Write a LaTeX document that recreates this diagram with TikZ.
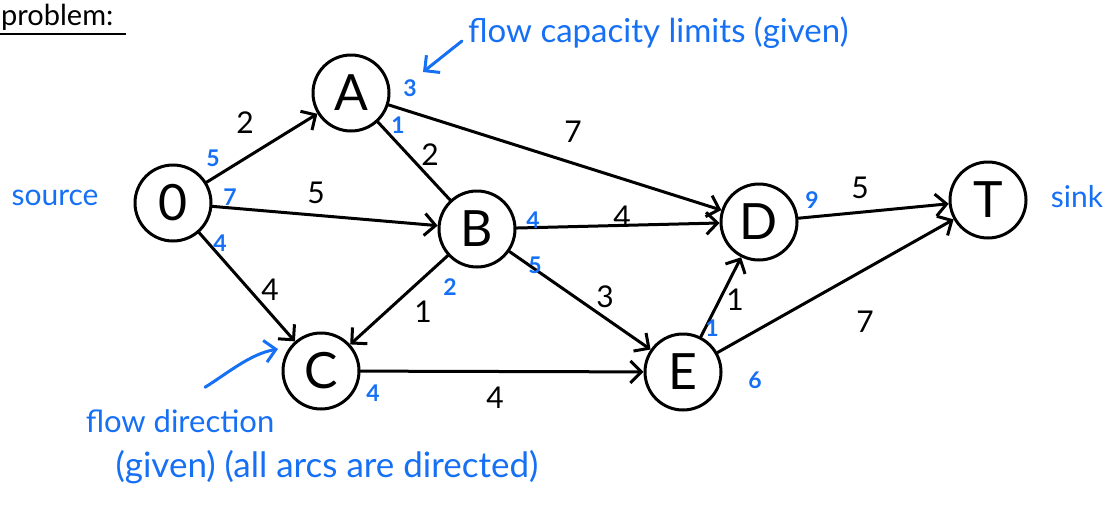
\documentclass[tikz,border=0pt]{standalone}
\usepackage{fontspec}
\setmainfont{Lato}
\usetikzlibrary{arrows.meta}
\definecolor{ink}{RGB}{0,0,0}
\definecolor{pen}{RGB}{22,112,245}
\begin{document}
\begin{tikzpicture}[x=1pt,y=-1pt,
  vert/.style={circle, draw=ink, line width=3pt, minimum size=76pt, inner sep=0pt,
    font=\fontsize{50}{50}\selectfont},
  arcline/.style={draw=ink, line width=3pt, line cap=round,
    -{Straight Barb[length=11pt,width=22pt,line width=3pt]}},
  plainline/.style={draw=ink, line width=3pt, line cap=round},
  capnum/.style={text=ink, font=\fontsize{30}{30}\selectfont},
  flownum/.style={text=pen, font=\fontsize{23}{23}\selectfont\bfseries},
  notetext/.style={text=pen, inner sep=0pt},
  pointer/.style={draw=pen, line width=3pt, line cap=round,
    -{Straight Barb[length=11pt,width=22pt,line width=3pt]}},
]
\useasboundingbox (0,0) rectangle (1118,504);

% heading
\node[text=ink, font=\fontsize{29}{29}\selectfont, anchor=base west, inner sep=0pt] (head) at (1,25) {problem:};
\coordinate (ulA) at (0,34);
\coordinate (ulB) at (126,34);
\draw[ink, line width=2.8pt] (ulA) -- (ulB);

% vertices
\node[vert] (O) at (173,203) {0};
\node[vert] (A) at (351,93) {A};
\node[vert] (B) at (477,229) {B};
\node[vert] (C) at (321,371) {C};
\node[vert] (D) at (759,222) {D};
\node[vert] (E) at (683,372) {E};
\node[vert] (T) at (988,200) {T};

% arcs
\draw[arcline] (O) -- (A);
\draw[arcline] (O) -- (B);
\draw[arcline] (O) -- (C);
\draw[plainline] (A) -- (B);
\draw[arcline] (A) -- (D);
\draw[arcline] (B) -- (D);
\draw[arcline] (B) -- (C);
\draw[arcline] (B) -- (E);
\draw[arcline] (C) -- (E);
\draw[arcline] (E) -- (D);
\draw[arcline] (D) -- (T);
\draw[arcline] (E) -- (T);

% capacities
\node[capnum] (kOA) at (245,123) {2};
\node[capnum] (kOB) at (316,193) {5};
\node[capnum] (kOC) at (270,290) {4};
\node[capnum] (kAB) at (430,155) {2};
\node[capnum] (kAD) at (573,132) {7};
\node[capnum] (kBD) at (622,217) {4};
\node[capnum] (kBE) at (605,297) {3};
\node[capnum] (kBC) at (423,312) {1};
\node[capnum] (kCE) at (495,398) {4};
\node[capnum] (kED) at (735,300) {1};
\node[capnum] (kDT) at (860,188) {5};
\node[capnum] (kET) at (865,322) {7};

% flow limits at the tails
\node[flownum] (fOA) at (213,158) {5};
\node[flownum] (fOB) at (230,197) {7};
\node[flownum] (fOC) at (220,243) {4};
\node[flownum] (fAD) at (410,88) {3};
\node[flownum] (fAB) at (398,125) {1};
\node[flownum] (fBD) at (533,220) {4};
\node[flownum] (fBE) at (535,265) {5};
\node[flownum] (fBC) at (450,287) {2};
\node[flownum] (fDT) at (812,200) {9};
\node[flownum] (fED) at (712,328) {1};
\node[flownum] (fET) at (755,380) {6};
\node[flownum] (fCE) at (373,393) {4};

% notes
\node[notetext, font=\fontsize{30}{30}\selectfont] (src) at (55,198) {source};
\node[notetext, font=\fontsize{30}{30}\selectfont] (snk) at (1077,197) {sink};
\node[notetext, font=\fontsize{33}{33}\selectfont, anchor=west] (capnote) at (468,33) {flow capacity limits (given)};
\coordinate (capTip) at (423,72);
\draw[pointer] (capnote.west) ++(-6,8) -- (capTip);
\node[notetext, font=\fontsize{31}{31}\selectfont] (dir1) at (180,421) {flow direction};
\node[notetext, font=\fontsize{35}{35}\selectfont] (dir2) at (327,467) {(given) (all arcs are directed)};
\coordinate (dirTip) at (278,349);
\draw[pointer] (dir1.north) ++(25,-22) .. controls (228,373) and (250,354) .. (dirTip);
\end{tikzpicture}
\end{document}
